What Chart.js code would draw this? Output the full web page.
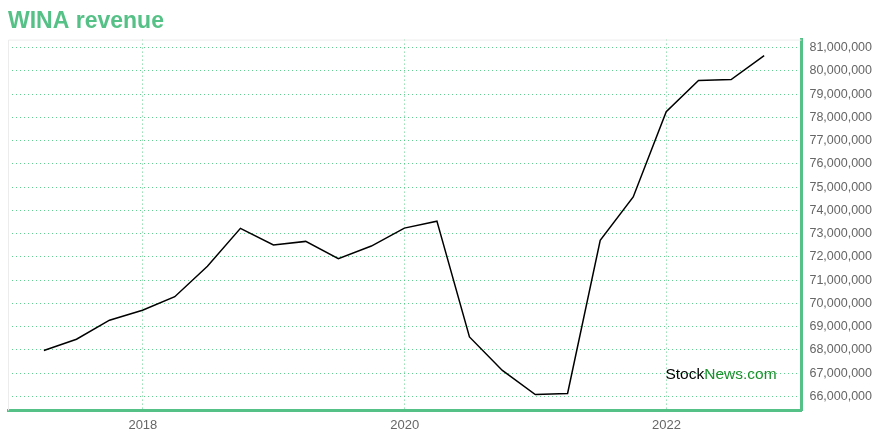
<!DOCTYPE html>
<html>
<head>
<meta charset="utf-8">
<script src="https://cdn.jsdelivr.net/npm/chart.js@4"></script>
<style>
  html, body { margin: 0; padding: 0; background: #fff; }
  #wrap { width: 880px; height: 440px; }
</style>
</head>
<body>
<div id="wrap"><canvas id="revenue-chart"></canvas></div>
<script>
// quarter end dates and revenue
const quarterDates = [
    '2017-03-31', '2017-06-30', '2017-09-30', '2017-12-31',
    '2018-03-31', '2018-06-30', '2018-09-30', '2018-12-31',
    '2019-03-31', '2019-06-30', '2019-09-30', '2019-12-31',
    '2020-03-31', '2020-06-30', '2020-09-30', '2020-12-31',
    '2021-03-31', '2021-06-30', '2021-09-30', '2021-12-31',
    '2022-03-31', '2022-06-30', '2022-09-30'
];
const revenue = [
    67980000, 68460000, 69280000, 69710000,
    70290000, 71600000, 73230000, 72520000,
    72670000, 71930000, 72470000, 73240000,
    73540000, 68560000, 67120000, 66080000,
    66130000, 72720000, 74580000, 78250000,
    79590000, 79630000, 80660000
];
const yearTicks = [2018, 2020, 2022];
const revenueTicks = [66e6, 67e6, 68e6, 69e6, 70e6, 71e6, 72e6, 73e6, 74e6, 75e6, 76e6, 77e6, 78e6, 79e6, 80e6, 81e6];

const green = '#55c186';
const gridGreen = 'rgba(60, 195, 115, 0.8)';
const fontFamily = '"Liberation Sans", Arial, sans-serif';

const toYear = (s) => {
    const d = new Date(s + 'T00:00:00Z');
    const start = Date.UTC(d.getUTCFullYear(), 0, 1);
    const end = Date.UTC(d.getUTCFullYear() + 1, 0, 1);
    return d.getUTCFullYear() + (d.getTime() - start) / (end - start);
};

const points = quarterDates.map((q, i) => ({ x: toYear(q), y: revenue[i] }));

// thin gray frame on top/left + watermark
const framePlugin = {
    id: 'frame',
    beforeDatasetsDraw(chart) {
        const { ctx, chartArea: a } = chart;
        ctx.save();
        ctx.strokeStyle = '#ececec';
        ctx.lineWidth = 1;
        ctx.beginPath();
        ctx.moveTo(a.left + 0.5, a.bottom);
        ctx.lineTo(a.left + 0.5, a.top + 0.5);
        ctx.lineTo(a.right, a.top + 0.5);
        ctx.stroke();
        ctx.restore();
    },
    afterDraw(chart) {
        const { ctx, chartArea: a } = chart;
        ctx.save();
        ctx.font = '15.5px ' + fontFamily;
        ctx.textBaseline = 'middle';
        const x = a.right - 136;
        const y = a.bottom - 36;
        ctx.fillStyle = '#000';
        ctx.fillText('Stock', x, y);
        const w = ctx.measureText('Stock').width;
        ctx.fillStyle = '#1b8f2a';
        ctx.fillText('News.com', x + w, y);
        ctx.restore();
    }
};

new Chart(document.getElementById('revenue-chart'), {
    type: 'line',
    data: {
        datasets: [{
            label: 'Revenue',
            data: points,
            borderColor: '#000',
            borderWidth: 1.5,
            pointRadius: 0,
            tension: 0,
            fill: false
        }]
    },
    options: {
        responsive: true,
        maintainAspectRatio: false,
        animation: false,
        layout: { padding: { left: 8, right: 0, top: 0, bottom: 0 } },
        plugins: {
            legend: { display: false },
            tooltip: { enabled: false },
            title: {
                display: true,
                text: 'WINA revenue',
                align: 'start',
                color: green,
                font: { family: fontFamily, size: 23, weight: 'bold' },
                padding: { top: 8, bottom: 4 }
            }
        },
        scales: {
            x: {
                type: 'linear',
                min: 2016.97,
                max: 2023.03,
                afterBuildTicks: (axis) => { axis.ticks = yearTicks.map(v => ({ value: v })); },
                ticks: {
                    color: '#666',
                    font: { family: fontFamily, size: 13 },
                    padding: 7,
                    maxRotation: 0,
                    callback: (v) => String(v)
                },
                grid: { color: gridGreen, lineWidth: 1, drawTicks: false },
                border: { display: true, color: green, width: 3, dash: [1, 3] }
            },
            y: {
                position: 'right',
                min: 65400000,
                max: 81350000,
                afterBuildTicks: (axis) => { axis.ticks = revenueTicks.map(v => ({ value: v })); },
                ticks: {
                    color: '#666',
                    font: { family: fontFamily, size: 12.5 },
                    padding: 8,
                    callback: (v) => v.toLocaleString('en-US')
                },
                grid: { color: gridGreen, lineWidth: 1, drawTicks: false },
                border: { display: true, color: green, width: 3, dash: [1, 3] }
            }
        }
    },
    plugins: [framePlugin]
});
</script>
</body>
</html>
